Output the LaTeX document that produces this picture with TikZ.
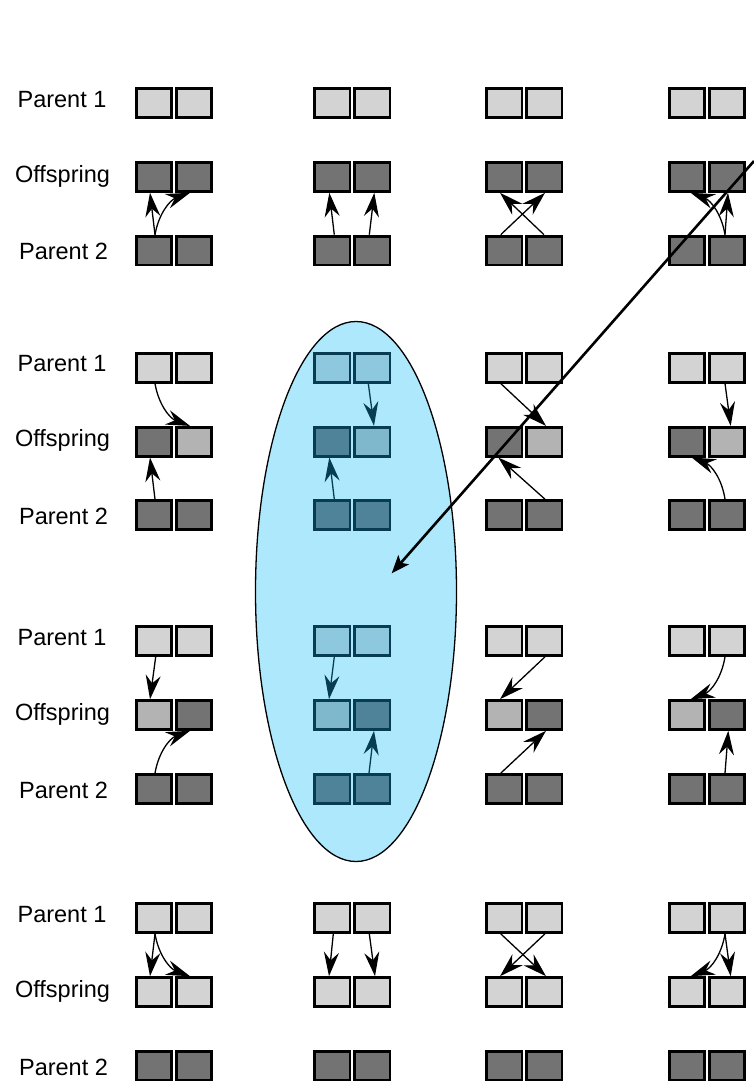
\documentclass[tikz,border=0pt]{standalone}
\usepackage{fontspec}
\setmainfont{Liberation Sans}
\usetikzlibrary{arrows.meta,shapes.geometric}
\definecolor{lg}{HTML}{D3D3D3}
\definecolor{dg}{HTML}{737373}
\definecolor{mg}{HTML}{B3B3B3}
\definecolor{ell}{HTML}{ADE8FC}
\definecolor{bl}{HTML}{8EC8DF}
\definecolor{bm}{HTML}{7FB8CD}
\definecolor{bd}{HTML}{4E8399}
\definecolor{bb}{HTML}{083C52}
\newcommand\pair[5]{%
  \node[cell,fill=#4] (#1a) at (#2+19,#3) {};
  \node[cell,fill=#5] (#1b) at (#2+59,#3) {};}
\newcommand\arr[5][]{\draw[smallarrow,#1] ([xshift=#3pt]#2) to ([xshift=#5pt]#4);}
\tikzset{
  cell/.style={draw=black,line width=2.8pt,minimum width=35.2pt,minimum height=28.8pt,inner sep=0pt},
  smallarrow/.style={-{Stealth[length=24pt,width=15pt,inset=8pt]},line width=1.3pt},
  bar/.style={draw=bb},
  lab/.style={font=\fontsize{23.5}{28}\selectfont,inner sep=0pt,anchor=base}}
\begin{document}
\begin{tikzpicture}[x=1pt,y=-1pt]
\useasboundingbox (0,0) rectangle (754,1081);
% selection ellipse
\node[ellipse,draw=black,line width=1.3pt,fill=ell,minimum width=201pt,minimum height=540pt,inner sep=0pt] (sel) at (356,591.5) {};
% labels
\foreach \y/\n in {103/1,367.7/2,641/3,918/4}{
  \node[lab] (lp\n) at (62,\y+4) {Parent 1};}
\foreach \y/\n in {177/1,441.7/2,715/3,992/4}{
  \node[lab] (lo\n) at (62.5,\y+5) {Offspring};}
\foreach \y/\n in {250.5/1,515/2,789/3,1066/4}{
  \node[lab] (lq\n) at (63.5,\y+9) {Parent 2};}
% group 1
\pair{g1c1p}{134.7}{103}{lg}{lg}
\pair{g1c1o}{134.7}{177}{dg}{dg}
\pair{g1c1q}{134.7}{250.5}{dg}{dg}
\pair{g1c2p}{313.3}{103}{lg}{lg}
\pair{g1c2o}{313.3}{177}{dg}{dg}
\pair{g1c2q}{313.3}{250.5}{dg}{dg}
\pair{g1c3p}{485.3}{103}{lg}{lg}
\pair{g1c3o}{485.3}{177}{dg}{dg}
\pair{g1c3q}{485.3}{250.5}{dg}{dg}
\pair{g1c4p}{667.7}{103}{lg}{lg}
\pair{g1c4o}{667.7}{177}{dg}{dg}
\pair{g1c4q}{667.7}{250.5}{dg}{dg}
% group 2
\pair{g2c1p}{134.7}{367.7}{lg}{lg}
\pair{g2c1o}{134.7}{441.7}{dg}{mg}
\pair{g2c1q}{134.7}{515}{dg}{dg}
\pair{g2c2p}{313.3}{367.7}{bl,draw=bb}{bl,draw=bb}
\pair{g2c2o}{313.3}{441.7}{bd,draw=bb}{bm,draw=bb}
\pair{g2c2q}{313.3}{515}{bd,draw=bb}{bd,draw=bb}
\pair{g2c3p}{485.3}{367.7}{lg}{lg}
\pair{g2c3o}{485.3}{441.7}{dg}{mg}
\pair{g2c3q}{485.3}{515}{dg}{dg}
\pair{g2c4p}{667.7}{367.7}{lg}{lg}
\pair{g2c4o}{667.7}{441.7}{dg}{mg}
\pair{g2c4q}{667.7}{515}{dg}{dg}
% group 3
\pair{g3c1p}{134.7}{641}{lg}{lg}
\pair{g3c1o}{134.7}{715}{mg}{dg}
\pair{g3c1q}{134.7}{789}{dg}{dg}
\pair{g3c2p}{313.3}{641}{bl,draw=bb}{bl,draw=bb}
\pair{g3c2o}{313.3}{715}{bm,draw=bb}{bd,draw=bb}
\pair{g3c2q}{313.3}{789}{bd,draw=bb}{bd,draw=bb}
\pair{g3c3p}{485.3}{641}{lg}{lg}
\pair{g3c3o}{485.3}{715}{mg}{dg}
\pair{g3c3q}{485.3}{789}{dg}{dg}
\pair{g3c4p}{667.7}{641}{lg}{lg}
\pair{g3c4o}{667.7}{715}{mg}{dg}
\pair{g3c4q}{667.7}{789}{dg}{dg}
% group 4
\pair{g4c1p}{134.7}{918}{lg}{lg}
\pair{g4c1o}{134.7}{992}{lg}{lg}
\pair{g4c1q}{134.7}{1066}{dg}{dg}
\pair{g4c2p}{313.3}{918}{lg}{lg}
\pair{g4c2o}{313.3}{992}{lg}{lg}
\pair{g4c2q}{313.3}{1066}{dg}{dg}
\pair{g4c3p}{485.3}{918}{lg}{lg}
\pair{g4c3o}{485.3}{992}{lg}{lg}
\pair{g4c3q}{485.3}{1066}{dg}{dg}
\pair{g4c4p}{667.7}{918}{lg}{lg}
\pair{g4c4o}{667.7}{992}{lg}{lg}
\pair{g4c4q}{667.7}{1066}{dg}{dg}
% arrows group 1
\arr{g1c1qa.north}{1.3}{g1c1oa.south}{-3.7}
\arr[bend left=30]{g1c1qa.north}{1.3}{g1c1ob.south}{-3.7}
\arr{g1c2qa.north}{2}{g1c2oa.south}{-3}
\arr{g1c2qb.north}{-3}{g1c2ob.south}{2}
\arr{g1c3qa.north}{-3.6}{g1c3ob.south}{0.7}
\arr{g1c3qb.north}{-0.3}{g1c3oa.south}{-4.3}
\arr[bend right=30]{g1c4qb.north}{-1.7}{g1c4oa.south}{4}
\arr{g1c4qb.north}{-1.7}{g1c4ob.south}{1.3}
% arrows group 2
\arr[bend right=30]{g2c1pa.south}{1.3}{g2c1ob.north}{-3.7}
\arr{g2c1qa.north}{1.3}{g2c1oa.south}{-3.7}
\arr[bar]{g2c2pb.south}{-4}{g2c2ob.north}{1.7}
\arr[bar]{g2c2qa.north}{2}{g2c2oa.south}{-3}
\arr{g2c3pa.south}{-3.6}{g2c3ob.north}{1.7}
\arr{g2c3qb.north}{0.7}{g2c3oa.south}{-6}
\arr{g2c4pb.south}{-1.7}{g2c4ob.north}{4}
\arr[bend right=30]{g2c4qb.north}{-1.7}{g2c4oa.south}{5}
% arrows group 3
\arr{g3c1pa.south}{2}{g3c1oa.north}{-3.7}
\arr[bend left=30]{g3c1qa.north}{1.3}{g3c1ob.south}{-3.7}
\arr[bar]{g3c2pa.south}{2}{g3c2oa.north}{-3.3}
\arr[bar]{g3c2qb.north}{-3.3}{g3c2ob.south}{1.7}
\arr{g3c3pb.south}{0.7}{g3c3oa.north}{-4.3}
\arr{g3c3qa.north}{-3.6}{g3c3ob.south}{1.7}
\arr[bend left=30]{g3c4pb.south}{-1.7}{g3c4oa.north}{4}
\arr{g3c4qb.north}{-1.7}{g3c4ob.south}{1.6}
% arrows group 4
\arr{g4c1pa.south}{1.3}{g4c1oa.north}{-3.7}
\arr[bend right=30]{g4c1pa.south}{1.3}{g4c1ob.north}{-3.7}
\arr{g4c2pa.south}{1}{g4c2oa.north}{-3.3}
\arr{g4c2pb.south}{-3}{g4c2ob.north}{2.7}
\arr{g4c3pa.south}{-3.6}{g4c3ob.north}{1.7}
\arr{g4c3pb.south}{0.7}{g4c3oa.north}{-4.3}
\arr[bend left=30]{g4c4pb.south}{-1.7}{g4c4oa.north}{4}
\arr{g4c4pb.south}{-1.7}{g4c4ob.north}{4}
% big arrow
\coordinate (bigs) at (754,161);
\coordinate (bige) at (391.7,573.3);
\draw[-{Stealth[length=18pt,width=14pt,inset=4pt]},line width=2.6pt] (bigs) -- (bige);
\end{tikzpicture}
\end{document}
